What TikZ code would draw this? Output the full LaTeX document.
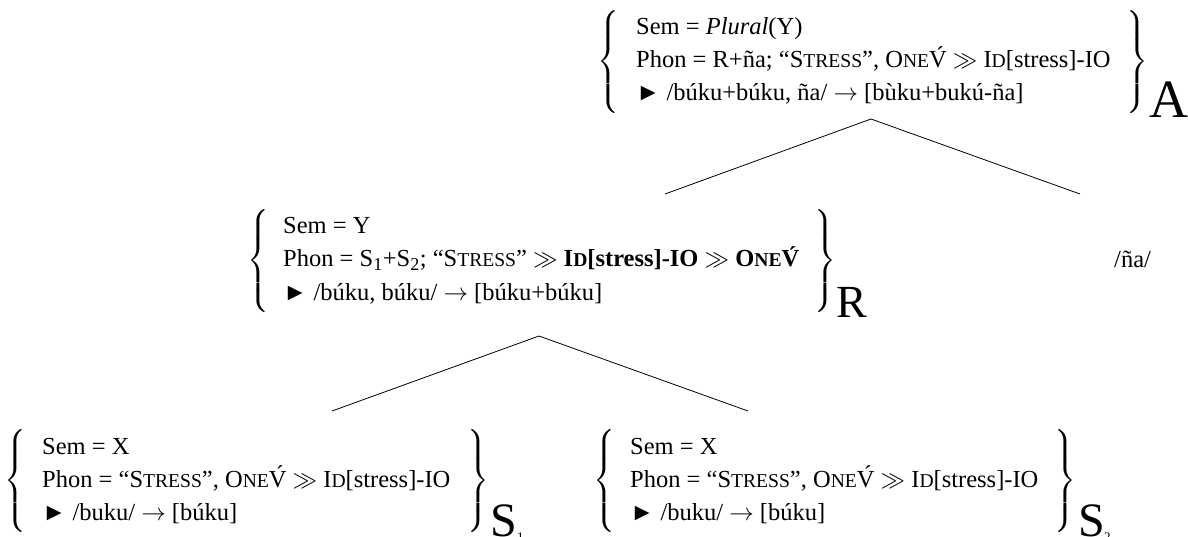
\documentclass[tikz,border=0pt]{standalone}
\usepackage{mathptmx}
\usepackage{fontspec}
\setmainfont{Liberation Serif}
\newcommand\smc[1]{{\fontsize{19.6}{20}\selectfont #1}}
\newcommand\lbrA{$\left\{\vrule height 45pt depth 45pt width 0pt\right.$}
\newcommand\rbrA{$\left.\vrule height 45pt depth 45pt width 0pt\right\}$}
\tikzset{
  ln/.style={anchor=base west, inner sep=0pt, font=\fontsize{24.5}{28}\selectfont},
  brc/.style={inner sep=0pt, anchor=center, font=\fontsize{24.5}{28}\selectfont},
  lbl/.style={anchor=base west, inner sep=0pt},
  branch/.style={line width=0.8pt}
}
\begin{document}
\begin{tikzpicture}[x=1pt,y=-1pt]
\useasboundingbox (0,0) rectangle (1188,537);
% ---- A block
\node[brc] (Albr) at (609,62) {\lbrA};
\node[ln] (A1) at (636,35) {Sem = \textit{Plural}(Y)};
\node[ln] (A2) at (636,68) {Phon = R+ña; “S\smc{TRESS}”, O\smc{NE}V́ $\gg$ I\smc{D}[stress]-IO};
\node[ln] (A3) at (636,101) {► /búku+búku, ña/ $\rightarrow$ [bùku+bukú-ña]};
\node[brc] (Arbr) at (1137,62) {\rbrA};
\node[lbl, font=\fontsize{54}{54}\selectfont] (Alab) at (1149,118) {A};
% ---- R block
\node[brc] (Rlbr) at (259,261) {\lbrA};
\node[ln] (R1) at (283,234) {Sem = Y};
\node[ln] (R2) at (283,267) {Phon = S\textsubscript{1}+S\textsubscript{2}; “S\smc{TRESS}” $\gg$ \textbf{I\smc{D}[stress]-IO} $\gg$ \textbf{O\smc{NE}V́}};
\node[ln] (R3) at (283,300) {► /búku, búku/ $\rightarrow$ [búku+búku]};
\node[brc] (Rrbr) at (825,261) {\rbrA};
\node[lbl, font=\fontsize{46}{46}\selectfont] (Rlab) at (836,317) {R};
% ---- /ña/
\node[ln] (na) at (1114,268) {/ña/};
% ---- S1 block
\node[brc] (S1lbr) at (16,481) {\lbrA};
\node[ln] (S11) at (42,454) {Sem = X};
\node[ln] (S12) at (42,487) {Phon = “S\smc{TRESS}”, O\smc{NE}V́ $\gg$ I\smc{D}[stress]-IO};
\node[ln] (S13) at (42,520) {► /buku/ $\rightarrow$ [búku]};
\node[brc] (S1rbr) at (478,481) {\rbrA};
\node[lbl, font=\fontsize{48}{48}\selectfont] (S1lab) at (490,536) {S};
\node[lbl, font=\fontsize{13}{13}\selectfont] (S1sub) at (517,541) {1};
% ---- S2 block
\node[brc] (S2lbr) at (605,481) {\lbrA};
\node[ln] (S21) at (630,454) {Sem = X};
\node[ln] (S22) at (630,487) {Phon = “S\smc{TRESS}”, O\smc{NE}V́ $\gg$ I\smc{D}[stress]-IO};
\node[ln] (S23) at (630,520) {► /buku/ $\rightarrow$ [búku]};
\node[brc] (S2rbr) at (1065,481) {\rbrA};
\node[lbl, font=\fontsize{48}{48}\selectfont] (S2lab) at (1078,536) {S};
\node[lbl, font=\fontsize{13}{13}\selectfont] (S2sub) at (1104,541) {2};
% ---- branches
\coordinate (Aapex) at (871,119);
\coordinate (Aleft) at (665,194);
\coordinate (Aright) at (1080,194);
\coordinate (Rapex) at (539,336);
\coordinate (Rleft) at (332,411);
\coordinate (Rright) at (748,411);
\draw[branch] (Aleft) -- (Aapex) -- (Aright);
\draw[branch] (Rleft) -- (Rapex) -- (Rright);
\end{tikzpicture}
\end{document}
